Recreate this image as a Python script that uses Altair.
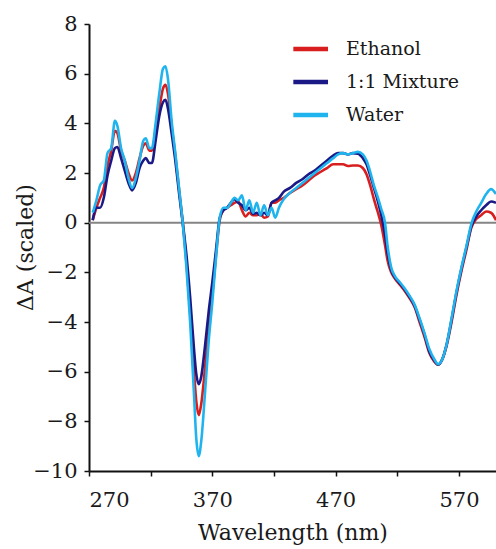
import altair as alt
import pandas as pd

wavelength = [273, 276, 279, 282, 285, 288, 291, 293, 296, 299,
              302, 305, 308, 311, 314, 316, 319, 321, 324, 327,
              330, 332, 334, 337, 340, 343, 346, 349, 352, 355,
              357, 359, 361, 364, 367, 370, 373, 376, 379, 382,
              385, 388, 391, 394, 397, 400, 403, 406, 409, 412,
              415, 418, 421, 424, 428, 433, 438, 443, 448, 453,
              458, 463, 468, 472, 476, 480, 484, 488, 492, 495,
              498, 501, 504, 507, 510, 512, 515, 518, 522, 526,
              530, 534, 538, 542, 546, 550, 553, 556, 560, 564,
              568, 572, 576, 580, 584, 588, 592, 596, 600]

ethanol = [0.1, 0.6, 1.0, 1.4, 2.3, 2.9, 3.7, 3.6, 2.9, 2.5,
           2.0, 1.7, 2.0, 2.6, 3.1, 3.2, 2.9, 2.9, 3.7, 4.6,
           5.4, 5.55, 5.2, 3.9, 2.7, 1.35, 0.0, -1.6, -3.6, -5.9,
           -7.2, -7.75, -7.3, -5.9, -4.3, -2.9, -1.3, 0.1, 0.5, 0.6,
           0.7, 0.8, 0.85, 0.5, 0.25, 0.4, 0.3, 0.3, 0.35, 0.2,
           0.25, 0.8, 0.8, 0.9, 1.0, 1.2, 1.35, 1.5, 1.7, 1.9,
           2.05, 2.2, 2.35, 2.35, 2.35, 2.28, 2.3, 2.3, 2.2, 1.95,
           1.5, 0.95, 0.45, -0.1, -0.9, -1.5, -2.0, -2.25, -2.5, -2.75,
           -3.05, -3.4, -4.0, -4.6, -5.25, -5.6, -5.72, -5.55, -4.95, -4.0,
           -2.9, -1.95, -1.1, -0.2, 0.15, 0.3, 0.45, 0.4, 0.1]

mixture = [0.1, 0.6, 0.6, 1.0, 1.9, 2.5, 3.0, 3.05, 2.6, 2.1,
           1.6, 1.3, 1.6, 2.2, 2.5, 2.6, 2.4, 2.4, 3.3, 4.3,
           4.85, 4.95, 4.6, 3.6, 2.5, 1.2, 0.0, -1.3, -3.0, -5.0,
           -6.1, -6.5, -6.2, -5.0, -3.6, -2.4, -1.1, 0.2, 0.5, 0.6,
           0.8, 0.95, 0.8, 0.7, 0.5, 0.6, 0.35, 0.4, 0.3, 0.4,
           0.3, 0.8, 0.9, 1.0, 1.25, 1.4, 1.6, 1.75, 1.95, 2.1,
           2.3, 2.5, 2.7, 2.8, 2.8, 2.75, 2.8, 2.78, 2.6, 2.35,
           1.9, 1.4, 0.9, 0.3, -0.5, -1.2, -1.9, -2.2, -2.45, -2.7,
           -3.0, -3.35, -3.9, -4.5, -5.2, -5.55, -5.72, -5.55, -4.9, -3.9,
           -2.8, -1.85, -1.0, -0.15, 0.25, 0.5, 0.7, 0.85, 0.8]

water = [0.4, 0.9, 1.5, 1.7, 2.8, 3.0, 4.1, 3.9, 3.0, 2.5,
         1.8, 1.4, 1.8, 2.5, 3.3, 3.4, 3.0, 3.0, 4.0, 5.2,
         6.2, 6.3, 5.8, 4.1, 2.8, 1.4, 0.0, -1.8, -4.0, -6.8,
         -8.7, -9.4, -8.8, -6.9, -4.8, -3.2, -1.4, 0.2, 0.6, 0.6,
         0.8, 1.0, 0.9, 1.1, 0.5, 0.9, 0.4, 0.8, 0.3, 0.7,
         0.3, 0.6, 0.2, 0.6, 0.95, 1.2, 1.4, 1.6, 1.8, 2.0,
         2.2, 2.4, 2.6, 2.75, 2.8, 2.75, 2.8, 2.85, 2.75, 2.5,
         2.05, 1.5, 1.05, 0.55, 0.0, -0.9, -1.8, -2.15, -2.4, -2.65,
         -2.95, -3.3, -3.85, -4.45, -5.1, -5.5, -5.7, -5.55, -4.9, -3.85,
         -2.75, -1.8, -0.95, -0.05, 0.45, 0.8, 1.15, 1.35, 1.15]

series_names = ["Ethanol", "1:1 Mixture", "Water"]
series_colors = ["#d81e1e", "#1b1985", "#20b4ee"]
x_ticks = [270, 320, 370, 420, 470, 520, 570]
y_ticks = [-10, -8, -6, -4, -2, 0, 2, 4, 6, 8]

rows = []
for name, vals in zip(series_names, [ethanol, mixture, water]):
    for w, v in zip(wavelength, vals):
        rows.append({"wl": w, "dA": v, "series": name})
df = pd.DataFrame(rows)

FONT = "DejaVu Serif"
TXT = "#1a1a1a"

x_enc = alt.X(
    "wl:Q",
    scale=alt.Scale(domain=[270, 600], nice=False, zero=False),
    axis=alt.Axis(
        title="Wavelength (nm)",
        values=x_ticks,
        labelExpr="datum.value % 100 == 70 ? datum.label : ''",
        labelPadding=13,
        titlePadding=12,
    ),
)
y_enc = alt.Y(
    "dA:Q",
    scale=alt.Scale(domain=[-10, 8], nice=False, zero=False),
    axis=alt.Axis(title="ΔA (scaled)", values=y_ticks, labelPadding=7, titleX=-52, titleY=223),
)
color_enc = alt.Color(
    "series:N",
    scale=alt.Scale(domain=series_names, range=series_colors),
    sort=series_names,
    legend=alt.Legend(
        title=None,
        orient="none",
        legendX=202,
        legendY=14,
        symbolType="M-1,0L3,0",
        symbolStrokeWidth=4.5,
        symbolSize=301,
        labelOffset=33,
        rowPadding=12,
        padding=0,
    ),
)

zero = alt.Chart(pd.DataFrame({"z": [0]})).mark_rule(color="#858585", strokeWidth=2).encode(
    y=alt.Y("z:Q", scale=alt.Scale(domain=[-10, 8], nice=False, zero=False))
)

layers = [zero]
for name in series_names:
    layers.append(
        alt.Chart(df)
        .transform_filter(alt.datum.series == name)
        .mark_line(strokeWidth=2.6, clip=True, interpolate="monotone")
        .encode(x=x_enc, y=y_enc, color=color_enc, order="wl:Q")
    )

chart = (
    alt.layer(*layers)
    .properties(
        width=407,
        height=447,
        padding={"left": 89, "top": 24, "right": 0, "bottom": 78},
        autosize=alt.AutoSizeParams(type="none"),
        background="white",
    )
    .configure_view(stroke=None)
    .configure_axis(
        grid=False,
        domainColor="#111111",
        domainWidth=2,
        tickColor="#111111",
        tickWidth=1.5,
        tickSize=5,
        labelFont=FONT,
        labelFontSize=21,
        labelColor=TXT,
        titleFont=FONT,
        titleFontSize=22,
        titleFontWeight="normal",
        titleColor=TXT,
    )
    .configure_legend(labelFont=FONT, labelFontSize=19, labelColor=TXT)
)

chart.save("out.html", embed_options={"renderer": "svg", "actions": False})
